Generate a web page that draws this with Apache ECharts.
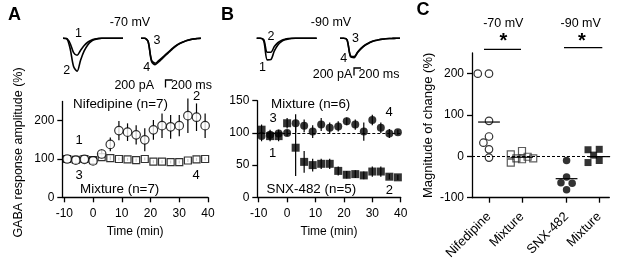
<!DOCTYPE html>
<html>
<head>
<meta charset="utf-8">
<script src="https://cdn.jsdelivr.net/npm/echarts@6/dist/echarts.min.js"></script>
<style>
  html, body { margin: 0; padding: 0; background: #fff; }
  #main { width: 624px; height: 267px; }
</style>
</head>
<body>
<div id="main"></div>
<script>
// ---- data ----
// time course (min)
var timePts = [-9, -6, -3, 0, 3, 6, 9, 12, 15, 18, 21, 24, 27, 30, 33, 36, 39];
var timeTicks = [-10, 0, 10, 20, 30, 40];
// panel A, -70 mV
var nifeMean = [100, 97, 99, 95, 113, 138, 174, 170, 163, 150, 176, 187, 184, 187, 213, 209, 187];
var nifeErr  = [4, 4, 4, 5, 12, 18, 25, 23, 25, 30, 26, 32, 31, 28, 45, 36, 32];
var mixAMean = [100, 98, 100, 97, 105, 102, 100, 99, 97, 100, 93, 93, 92, 92, 96, 99, 100];
var mixAErr  = [5, 4, 4, 4, 5, 5, 4, 4, 4, 4, 4, 4, 4, 4, 4, 4, 4];
// panel B, -90 mV
var mixBMean = [95, 97, 99, 100, 115, 111, 102, 113, 108, 110, 118, 113, 102, 120, 108, 99, 101];
var mixBErr  = [8, 8, 6, 5, 14, 10, 10, 10, 8, 8, 6, 8, 14, 8, 8, 7, 4];
var snxMean  = [105, 95, 95, 115, 77, 55, 50, 52, 52, 41, 35, 36, 34, 40, 40, 32, 31];
var snxErr   = [8, 8, 8, 8, 44, 17, 10, 8, 8, 7, 6, 6, 6, 8, 8, 4, 4];

// panel C, magnitude of change (%)
var groupNames = ['Nifedipine', 'Mixture', 'SNX-482', 'Mixture'];
var nifeChange = [200, 200, 86, 48, 33, 17, -3];
var mixAChange = [13, 5, -1, -5, -5, -7, -15];
var snxChange  = [-10, -50, -64, -65, -81];
var mixBChange = [17, 16, 3, -10, -15, -15];

// example traces (pA), sampled every 100 ms
var traceT  = [0, 100, 200, 300, 400, 500, 600, 700, 800, 900, 1000, 1100, 1200, 1300, 1400, 1500, 1600, 1700];
var traceA1 = [0, -10, -150, -430, -510, -360, -220, -120, -60, -25, -8, 0, 0, 0, 0, 0, 0, 0];
var traceA2 = [0, -10, -300, -850, -990, -650, -380, -200, -90, -35, -10, 0, 0, 0, 0, 0, 0, 0];
var traceA3 = [0, 0, -90, -660, -750, -675, -580, -485, -390, -295, -215, -150, -105, -65, -38, -18, -8, 0];
var traceA4 = [0, 0, -100, -700, -790, -710, -610, -510, -410, -310, -225, -160, -110, -70, -40, -20, -8, 0];
var traceB1 = [0, 0, -80, -650, -640, -380, -200, -100, -45, -18, -6, 0, 0, 0, 0, 0, 0, 0];
var traceB2 = [0, 0, -40, -420, -420, -250, -130, -65, -28, -10, 0, 0, 0, 0, 0, 0, 0, 0];
var traceB3 = [0, 0, -45, -530, -550, -410, -295, -210, -148, -100, -66, -43, -27, -15, -8, -4, 0, 0];
var traceB4 = [0, 0, -50, -560, -580, -430, -310, -220, -155, -105, -70, -45, -28, -16, -8, -4, 0, 0];

// ---- layout ----
var FONT = '"Liberation Sans", Arial, sans-serif';
var groupPos = [1, 2, 3.35, 4.34];
var gC = { left: 472, top: 53, width: 137.3, height: 144.7, xMin: 0.485, xMax: 4.645, yMin: -100, yMax: 250 };
// time axes are drawn with an offset so the y axis never snaps onto t = 0
var T0 = 11;
function tAxis(t) { return t + T0; }

var myChart = echarts.init(document.getElementById('main'));

function pairs(xs, ys) { return xs.map(function (x, i) { return [x, ys[i]]; }); }
function triples(xs, ys, es) { return xs.map(function (x, i) { return [x, ys[i], es[i]]; }); }
var timeAx = timePts.map(tAxis);

// small beeswarm: spread points sideways (at most 2 steps) when they collide
function swarm(vals, center) {
  var pxX = gC.width / (gC.xMax - gC.xMin);
  var pxY = gC.height / (gC.yMax - gC.yMin);
  var step = 0.17, minD = 7.5;
  var placed = [];
  vals.forEach(function (v) {
    var offs = [0, -1, 1, -2, 2];
    var best = null, bestD = -1;
    for (var k = 0; k < offs.length; k++) {
      var x = center + offs[k] * step;
      var d = placed.reduce(function (m, p) {
        var dx = (p[0] - x) * pxX, dy = (p[1] - v) * pxY;
        return Math.min(m, Math.sqrt(dx * dx + dy * dy));
      }, Infinity);
      if (d >= minD) { best = x; break; }
      if (d > bestD) { bestD = d; best = x; }
    }
    placed.push([best, v]);
  });
  return placed;
}
function mean(a) { return a.reduce(function (s, v) { return s + v; }, 0) / a.length; }

function errBars(params, api) {
  var x = api.value(0), y = api.value(1), e = api.value(2);
  var p1 = api.coord([x, y + e]), p2 = api.coord([x, y - e]);
  return { type: 'line', shape: { x1: p1[0], y1: p1[1], x2: p2[0], y2: p2[1] },
           style: { stroke: '#000', lineWidth: 1.2 } };
}
function meanLine(params, api) {
  var x = api.value(0), y = api.value(1);
  var p1 = api.coord([x - 0.33, y]), p2 = api.coord([x + 0.33, y]);
  return { type: 'line', shape: { x1: p1[0], y1: p1[1], x2: p2[0], y2: p2[1] },
           style: { stroke: '#000', lineWidth: 1.2 } };
}

function axLine() { return { show: true, onZero: false, lineStyle: { color: '#000', width: 1.3 } }; }
function tick(vals) { return { show: true, length: 5, customValues: vals, lineStyle: { color: '#000', width: 1.3 } }; }
function lab(vals, m) { return { customValues: vals, margin: m, color: '#000', fontSize: 12, fontFamily: FONT }; }

function timeX(gi, min) {
  var tv = timeTicks.map(tAxis);
  var l = lab(tv, 10);
  l.formatter = function (v) { return String(Math.round(v - T0)); };
  return { gridIndex: gi, type: 'value', min: tAxis(min), max: tAxis(40),
    axisLine: axLine(), axisTick: tick(tv), axisLabel: l,
    splitLine: { show: false },
    name: 'Time (min)', nameLocation: 'middle', nameGap: 28,
    nameTextStyle: { color: '#000', fontSize: 12, fontFamily: FONT } };
}
function traceAxes(gi) {
  return {
    x: { gridIndex: gi, type: 'value', min: 0, max: 1700, show: false },
    y: { gridIndex: gi, type: 'value', min: -1100, max: 50, show: false }
  };
}
var traceStyle = { color: '#000', width: 1.6 };
function traceSeries(gi, arr) {
  return { type: 'line', xAxisIndex: gi, yAxisIndex: gi, data: pairs(traceT, arr),
    showSymbol: false, smooth: 0.3, lineStyle: traceStyle, silent: true };
}

var grids = [
  { left: 62.3, top: 101.5, width: 145.7, height: 95.8 },
  { left: 257.3, top: 100.7, width: 143.4, height: 96.6 },
  { left: gC.left, top: gC.top, width: gC.width, height: gC.height },
  { left: 63, top: 36.6, width: 60, height: 38.3 },
  { left: 141, top: 36.6, width: 60, height: 38.3 },
  { left: 256.7, top: 36.6, width: 60, height: 38.3 },
  { left: 340, top: 36.6, width: 60, height: 38.3 }
];

var xAxes = [
  timeX(0, -10.7),
  timeX(1, -10.5),
  { gridIndex: 2, type: 'value', min: gC.xMin, max: gC.xMax,
    axisLine: axLine(), axisTick: tick(groupPos),
    axisLabel: { customValues: groupPos, margin: 17, rotate: 45, color: '#000', fontSize: 13, fontFamily: FONT,
      formatter: function (v) { var i = groupPos.indexOf(v); return i >= 0 ? groupNames[i] : ''; } },
    splitLine: { show: false } }
];
var yAxes = [
  { gridIndex: 0, type: 'value', min: 0, max: 250,
    axisLine: axLine(), axisTick: tick([0, 100, 200]), axisLabel: lab([0, 100, 200], 8),
    splitLine: { show: false } },
  { gridIndex: 1, type: 'value', min: 0, max: 150,
    axisLine: axLine(), axisTick: tick([0, 50, 100, 150]), axisLabel: lab([0, 50, 100, 150], 8),
    splitLine: { show: false } },
  { gridIndex: 2, type: 'value', min: gC.yMin, max: gC.yMax,
    axisLine: axLine(), axisTick: tick([-100, 0, 100, 200]), axisLabel: lab([-100, 0, 100, 200], 8),
    splitLine: { show: false },
    name: 'Magnitude of change (%)', nameLocation: 'middle', nameGap: 37,
    nameTextStyle: { color: '#000', fontSize: 13, fontFamily: FONT } }
];
for (var gi = 3; gi <= 6; gi++) {
  var ta = traceAxes(gi);
  xAxes.push(ta.x);
  yAxes.push(ta.y);
}

var openCircle = { color: '#fff', borderColor: '#000', borderWidth: 1.2 };
var openSquare = { color: '#fff', borderColor: '#000', borderWidth: 1.2 };
var filled = { color: '#000' };

var cGroups = [nifeChange, mixAChange, snxChange, mixBChange];
var cMeans = cGroups.map(function (g, i) { return [groupPos[i], mean(g)]; });

var series = [
  // panel A
  { type: 'custom', xAxisIndex: 0, yAxisIndex: 0, renderItem: errBars, data: triples(timeAx, mixAMean, mixAErr), z: 1 },
  { type: 'custom', xAxisIndex: 0, yAxisIndex: 0, renderItem: errBars, data: triples(timeAx, nifeMean, nifeErr), z: 1 },
  { type: 'scatter', xAxisIndex: 0, yAxisIndex: 0, symbol: 'rect', symbolSize: 7, itemStyle: openSquare, data: pairs(timeAx, mixAMean), z: 2 },
  { type: 'scatter', xAxisIndex: 0, yAxisIndex: 0, symbol: 'circle', symbolSize: 8.5, itemStyle: openCircle, data: pairs(timeAx, nifeMean), z: 3 },
  // panel B
  { type: 'custom', xAxisIndex: 1, yAxisIndex: 1, renderItem: errBars, data: triples(timeAx, snxMean, snxErr), z: 1 },
  { type: 'custom', xAxisIndex: 1, yAxisIndex: 1, renderItem: errBars, data: triples(timeAx, mixBMean, mixBErr), z: 1 },
  { type: 'scatter', xAxisIndex: 1, yAxisIndex: 1, symbol: 'circle', symbolSize: 8, itemStyle: filled, data: pairs(timeAx, mixBMean), z: 2,
    markLine: { silent: true, symbol: 'none', label: { show: false },
      lineStyle: { color: '#000', type: [3, 2], width: 1 }, data: [{ yAxis: 100 }] } },
  { type: 'scatter', xAxisIndex: 1, yAxisIndex: 1, symbol: 'rect', symbolSize: 8, itemStyle: filled, data: pairs(timeAx, snxMean), z: 3 },
  // panel C
  { type: 'custom', xAxisIndex: 2, yAxisIndex: 2, renderItem: meanLine, data: cMeans, z: 4,
    markLine: { silent: true, symbol: 'none', label: { show: false },
      lineStyle: { color: '#000', type: [3, 2], width: 1 }, data: [{ yAxis: 0 }] } },
  { type: 'scatter', xAxisIndex: 2, yAxisIndex: 2, symbol: 'circle', symbolSize: 7.5, itemStyle: openCircle, data: swarm(nifeChange, groupPos[0]), z: 3 },
  { type: 'scatter', xAxisIndex: 2, yAxisIndex: 2, symbol: 'rect', symbolSize: 7, itemStyle: { color: 'rgba(255,255,255,0)', borderColor: '#333', borderWidth: 1.2 }, data: swarm(mixAChange, groupPos[1]), z: 3 },
  { type: 'scatter', xAxisIndex: 2, yAxisIndex: 2, symbol: 'circle', symbolSize: 7.5, itemStyle: filled, data: swarm(snxChange, groupPos[2]), z: 3 },
  { type: 'scatter', xAxisIndex: 2, yAxisIndex: 2, symbol: 'rect', symbolSize: 7, itemStyle: filled, data: swarm(mixBChange, groupPos[3]), z: 3 },
  // example traces
  traceSeries(3, traceA1), traceSeries(3, traceA2),
  traceSeries(4, traceA3), traceSeries(4, traceA4),
  traceSeries(5, traceB1), traceSeries(5, traceB2),
  traceSeries(6, traceB3), traceSeries(6, traceB4)
];

function txt(x, y, s, size, bold, rot) {
  return { type: 'text', x: x, y: y, rotation: rot || 0, silent: true,
    style: { text: s, fill: '#000', font: (bold ? 'bold ' : '') + size + 'px ' + FONT,
      align: 'center', verticalAlign: 'middle', textAlign: 'center', textVerticalAlign: 'middle' } };
}
function poly(pts) {
  return { type: 'polyline', silent: true, shape: { points: pts }, style: { stroke: '#000', lineWidth: 1.3, fill: null } };
}

var graphics = [
  txt(14.5, 15, 'A', 18, true), txt(227.5, 15, 'B', 18, true), txt(423, 10, 'C', 18, true),
  txt(19, 152.5, 'GABA response amplitude (%)', 12.5, false, Math.PI / 2),
  // trace labels
  txt(130, 22.5, '-70 mV', 12.5), txt(331, 22.5, '-90 mV', 12.5),
  txt(78.5, 33.5, '1', 12.5), txt(66.7, 71, '2', 12.5), txt(157, 40.5, '3', 12.5), txt(146.7, 68, '4', 12.5),
  txt(271, 36.7, '2', 12.5), txt(262.5, 67.5, '1', 12.5), txt(355.5, 39, '3', 12.5), txt(343.7, 59, '4', 12.5),
  txt(134.2, 86, '200 pA', 12.5), txt(191.5, 86, '200 ms', 12.5), poly([[165.5, 87.5], [165.5, 80], [172.5, 80]]),
  txt(332.5, 74.5, '200 pA', 12.5), txt(379, 74.5, '200 ms', 12.5), poly([[354, 75.5], [354, 68], [361, 68]]),
  // panel A annotations
  txt(120.5, 104.7, 'Nifedipine (n=7)', 13.4), txt(196.7, 96.7, '2', 13), txt(79, 140, '1', 13),
  txt(79, 175, '3', 13), txt(196, 175, '4', 13), txt(119.7, 189, 'Mixture (n=7)', 13.4),
  // panel B annotations
  txt(310.7, 104.3, 'Mixture (n=6)', 13.4), txt(273, 118.3, '3', 13), txt(389, 112.7, '4', 13),
  txt(272.7, 153.7, '1', 13), txt(311.3, 189, 'SNX-482 (n=5)', 13.4), txt(389.3, 190.5, '2', 13),
  // panel C significance
  txt(503.3, 23.3, '-70 mV', 12.5), txt(580.7, 23.3, '-90 mV', 12.5),
  txt(503.3, 41, '*', 20, true), txt(582, 41, '*', 20, true),
  poly([[484, 49.3], [521, 49.3]]), poly([[564, 47.7], [602.3, 47.7]])
];

var option = {
  animation: false,
  backgroundColor: '#fff',
  textStyle: { fontFamily: FONT },
  grid: grids,
  xAxis: xAxes,
  yAxis: yAxes,
  series: series,
  graphic: graphics
};
myChart.setOption(option);
</script>
</body>
</html>
